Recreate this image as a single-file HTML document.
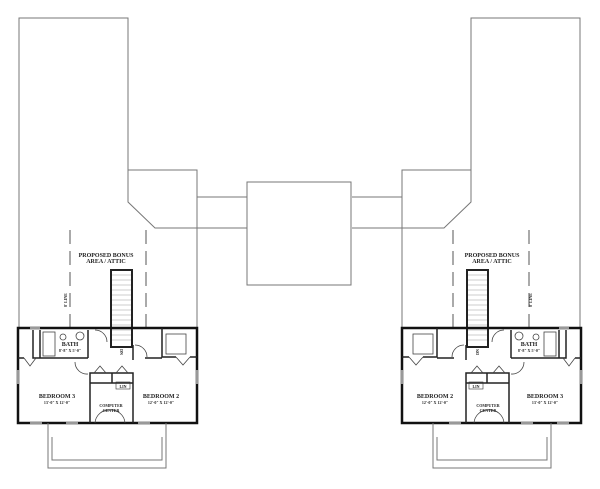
<!DOCTYPE html>
<html><head><meta charset="utf-8"><style>
html,body{margin:0;padding:0;background:#fff;}
svg{display:block;}
text{font-family:"Liberation Serif",serif;font-weight:bold;fill:#222;}
</style></head><body>
<svg width="600" height="489" viewBox="0 0 600 489" xmlns="http://www.w3.org/2000/svg">
<defs>
<g id="half" fill="none" stroke="#777" stroke-width="1">
  <!-- tower -->
  <polyline points="19,328 19,18 128,18 128,202 155,228 247,228"/>
  <polyline points="128,170 197,170 197,328"/>
  <line x1="197" y1="197" x2="247" y2="197"/>
  <!-- dashed attic lines -->
  <line x1="70" y1="230" x2="70" y2="330" stroke="#555" stroke-dasharray="14,7"/>
  <line x1="146" y1="230" x2="146" y2="330" stroke="#555" stroke-dasharray="14,7"/>
  <!-- stairs -->
  <rect x="111" y="270" width="21" height="77" stroke="#222" stroke-width="2"/>
  <g stroke="#999" stroke-width="0.6">
    <line x1="112" y1="275" x2="131" y2="275"/><line x1="112" y1="280" x2="131" y2="280"/>
    <line x1="112" y1="285" x2="131" y2="285"/><line x1="112" y1="290" x2="131" y2="290"/>
    <line x1="112" y1="295" x2="131" y2="295"/><line x1="112" y1="300" x2="131" y2="300"/>
    <line x1="112" y1="305" x2="131" y2="305"/><line x1="112" y1="310" x2="131" y2="310"/>
    <line x1="112" y1="315" x2="131" y2="315"/><line x1="112" y1="320" x2="131" y2="320"/>
    <line x1="112" y1="325" x2="131" y2="325"/><line x1="112" y1="330" x2="131" y2="330"/>
    <line x1="112" y1="335" x2="131" y2="335"/><line x1="112" y1="340" x2="131" y2="340"/>
  </g>
  <!-- outer walls -->
  <rect x="18" y="328" width="179" height="95" stroke="#111" stroke-width="2.5"/>
  <!-- interior walls -->
  <g stroke="#222" stroke-width="1.5">
    <polyline points="33,330 33,358 88,358"/>
    <line x1="88" y1="330" x2="88" y2="358"/>
    <line x1="40" y1="330" x2="40" y2="358"/>
    <line x1="18" y1="358" x2="24" y2="358"/>
    <polyline points="162,328 162,357 176,357"/>
    <line x1="190" y1="357" x2="197" y2="357"/>
    <line x1="145" y1="358" x2="162" y2="358"/>
    <polyline points="90,423 90,373 133,373 133,423"/>
    <line x1="90" y1="383" x2="133" y2="383"/>
    <line x1="112" y1="373" x2="112" y2="383"/>
    <line x1="133" y1="345" x2="133" y2="360"/>
  </g>
  <!-- tub/fixtures -->
  <rect x="43" y="332" width="12" height="24" stroke="#444" stroke-width="0.8"/>
  <circle cx="63" cy="337" r="3" stroke="#444" stroke-width="0.8"/>
  <circle cx="80" cy="336" r="4" stroke="#444" stroke-width="0.8"/>
  <rect x="166" y="334" width="20" height="20" stroke="#444" stroke-width="0.8"/>
  <!-- doors -->
  <g stroke="#444" stroke-width="0.8">
    <path d="M95,330 A12,12 0 0 1 107,342"/>
    <path d="M75,362 A12,12 0 0 0 88,374"/>
    <path d="M135,345 A12,12 0 0 1 147,357"/>
    <path d="M24,358 L30,366 L36,358"/>
    <path d="M176,357 L183,365 L190,357"/>
    <path d="M94,373 L100,366 L106,373"/>
    <path d="M116,373 L122,366 L128,373"/>
    <path d="M95,423 A14,14 0 0 1 110,410 A14,14 0 0 1 125,423"/>
  </g>
  <rect x="116" y="382" width="14" height="7" stroke="#333" stroke-width="0.6"/>
  <!-- windows -->
  <g stroke="#999" stroke-width="2">
    <line x1="18" y1="370" x2="18" y2="384"/>
    <line x1="197" y1="370" x2="197" y2="384"/>
    <line x1="30" y1="423" x2="42" y2="423"/>
    <line x1="66" y1="423" x2="78" y2="423"/>
    <line x1="138" y1="423" x2="150" y2="423"/>
    <line x1="30" y1="328" x2="40" y2="328"/>
  </g>
  <!-- porch -->
  <polyline points="48,423 48,468 166,468 166,423"/>
  <polyline points="52,437 52,460 162,460 162,437"/>
</g>
</defs>
<use href="#half"/>
<use href="#half" transform="matrix(-1 0 0 1 599 0)"/>
<!-- center box -->
<rect x="247" y="182" width="104" height="103" fill="none" stroke="#777" stroke-width="1"/>

<!-- left texts -->
<g font-size="6" text-anchor="middle">
<text x="106" y="257">PROPOSED BONUS</text>
<text x="106" y="263">AREA / ATTIC</text>
<text x="70" y="346">BATH</text>
<text x="70" y="352" font-size="4">8'-8" X 5'-0"</text>
<text x="57" y="398">BEDROOM 3</text>
<text x="57" y="404" font-size="4">13'-0" X 12'-0"</text>
<text x="161" y="398">BEDROOM 2</text>
<text x="161" y="404" font-size="4">12'-0" X 12'-0"</text>
<text x="111" y="407" font-size="4">COMPUTER</text>
<text x="111" y="412" font-size="4">CENTER</text>
<text x="123" y="388" font-size="4">LIN</text>
<text x="67" y="300" font-size="4" transform="rotate(-90 67 300)">8' LINE</text>
<text x="120" y="352" font-size="4" transform="rotate(90 120 352)">DN</text>

<!-- right texts -->
<text x="492" y="257">PROPOSED BONUS</text>
<text x="492" y="263">AREA / ATTIC</text>
<text x="529" y="346">BATH</text>
<text x="529" y="352" font-size="4">8'-8" X 5'-0"</text>
<text x="435" y="398">BEDROOM 2</text>
<text x="435" y="404" font-size="4">12'-0" X 12'-0"</text>
<text x="545" y="398">BEDROOM 3</text>
<text x="545" y="404" font-size="4">13'-0" X 12'-0"</text>
<text x="488" y="407" font-size="4">COMPUTER</text>
<text x="488" y="412" font-size="4">CENTER</text>
<text x="476" y="388" font-size="4">LIN</text>
<text x="532" y="300" font-size="4" transform="rotate(-90 532 300)">8' LINE</text>
<text x="479" y="352" font-size="4" transform="rotate(-90 479 352)">DN</text>
</g>
</svg>
</body></html>
